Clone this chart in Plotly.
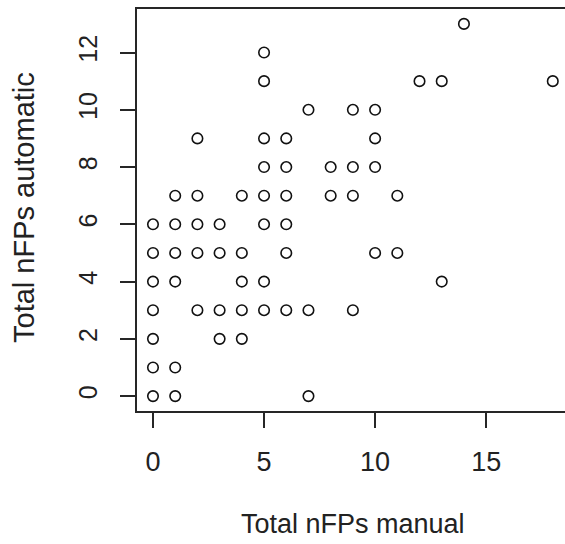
import plotly.graph_objects as go

manual = [0, 1, 7,
          0, 1,
          0, 3, 4,
          0, 2, 3, 4, 5, 6, 7, 9,
          0, 1, 4, 5, 13,
          0, 1, 2, 3, 4, 6, 10, 11,
          0, 1, 2, 3, 5, 6,
          1, 2, 4, 5, 6, 8, 9, 11,
          5, 6, 8, 9, 10,
          2, 5, 6, 10,
          7, 9, 10,
          5, 12, 13, 18,
          5,
          14]
automatic = [0, 0, 0,
             1, 1,
             2, 2, 2,
             3, 3, 3, 3, 3, 3, 3, 3,
             4, 4, 4, 4, 4,
             5, 5, 5, 5, 5, 5, 5, 5,
             6, 6, 6, 6, 6, 6,
             7, 7, 7, 7, 7, 7, 7, 7,
             8, 8, 8, 8, 8,
             9, 9, 9, 9,
             10, 10, 10,
             11, 11, 11, 11,
             12,
             13]

x_ticks = [0, 5, 10, 15]
y_ticks = [0, 2, 4, 6, 8, 10, 12]
x_title = "Total nFPs manual"
y_title = "Total nFPs automatic"

FONT = "Liberation Sans, Arial, sans-serif"
LINE = "#262626"
TEXT = "#222222"

fig = go.Figure()
fig.add_trace(go.Scatter(
    x=manual, y=automatic, mode="markers",
    marker=dict(symbol="circle-open", size=10.5, color="#111111",
                line=dict(width=1.6, color="#111111")),
    hoverinfo="x+y", showlegend=False,
))

fig.update_layout(
    width=565, height=544,
    margin=dict(l=137, r=0, t=9, b=133, pad=0),
    paper_bgcolor="white", plot_bgcolor="white",
    font=dict(family=FONT, size=25, color=TEXT),
    xaxis=dict(range=[-0.72, 18.55], tickvals=x_ticks, ticktext=[str(v) for v in x_ticks],
               showgrid=False, zeroline=False, showline=True, mirror=True,
               linecolor=LINE, linewidth=2, ticks="outside", ticklen=15,
               tickwidth=2, tickcolor=LINE, ticklabelstandoff=11,
               tickfont=dict(size=27, family=FONT, color=TEXT)),
    yaxis=dict(range=[-0.52, 13.52], tickvals=y_ticks, ticktext=[str(v) for v in y_ticks],
               showgrid=False, zeroline=False, showline=True, mirror=False,
               linecolor=LINE, linewidth=2, ticks="outside", ticklen=15,
               tickwidth=2, tickcolor=LINE, tickangle=-90, ticklabelstandoff=13,
               tickfont=dict(size=25, family=FONT, color=TEXT)),
    annotations=[
        dict(text=x_title, xref="paper", yref="paper", x=(353 - 137) / 428,
             y=-(524 - 411) / 402, xanchor="center", yanchor="middle",
             showarrow=False, font=dict(size=27, family=FONT, color=TEXT)),
        dict(text=y_title, xref="paper", yref="paper", x=-(137 - 24) / 428,
             y=(411 - 208) / 402, xanchor="center", yanchor="middle", textangle=-90,
             showarrow=False, font=dict(size=29, family=FONT, color=TEXT)),
    ],
)

fig.write_html("out.html")
